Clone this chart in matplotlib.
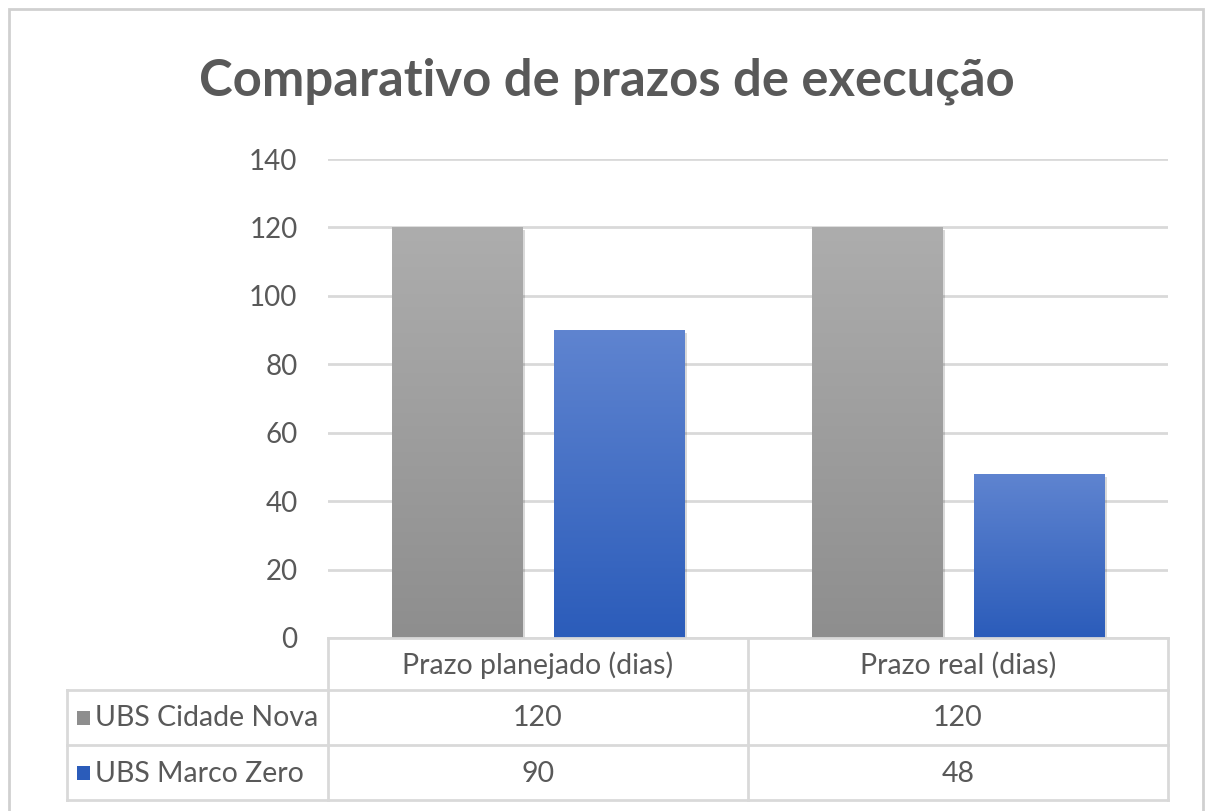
import matplotlib
matplotlib.use("Agg")
import matplotlib.pyplot as plt
import matplotlib.patheffects as pe
import numpy as np
from matplotlib.lines import Line2D
from matplotlib.patches import Rectangle
from matplotlib.colors import LinearSegmentedColormap

plt.rcParams['font.family'] = ['Lato', 'DejaVu Sans']

# data
title = "Comparativo de prazos de execução"
categories = ["Prazo planejado (dias)", "Prazo real (dias)"]
series_names = ["UBS Cidade Nova", "UBS Marco Zero"]
cidade_nova = [120, 120]
marco_zero = [90, 48]
yticks = [0, 20, 40, 60, 80, 100, 120, 140]

text_col = "#595959"
grid_col = "#d9d9d9"
gray_grad = ("#adadad", "#8e8e8e")
blue_grad = ("#5f84d0", "#2b5cba")
W, H = 1206, 811
fs_tab = 20.5

fig = plt.figure(figsize=(W / 100, H / 100), dpi=100)

# outer frame
fig.add_artist(Rectangle((9 / W, -0.1), (1203 - 9) / W, 1.1 - 9 / H, transform=fig.transFigure,
                         fill=False, edgecolor="#d0d0d0", linewidth=2))

# plot area
ax_l, ax_r, ax_t, ax_b = 328, 1168, 159, 638
ax = fig.add_axes([ax_l / W, 1 - ax_b / H, (ax_r - ax_l) / W, (ax_b - ax_t) / H])
ax.set_xlim(-0.5, 1.5)
ax.set_ylim(0, 140)
ax.set_yticks(yticks)
ax.set_xticks([])
ax.tick_params(axis='y', length=0, pad=22, labelsize=20, labelcolor=text_col)
for s in ax.spines.values():
    s.set_visible(False)
ax.grid(axis='y', color=grid_col, linewidth=2)
ax.set_axisbelow(True)

x = np.arange(len(categories))
bw = 0.31
off = 0.193


def gradient_bars(vals, xpos, cols):
    cmap = LinearSegmentedColormap.from_list("g", [cols[1], cols[0]])
    bars = ax.bar(xpos, vals, width=bw, color=cols[1], zorder=2,
                  path_effects=[pe.SimplePatchShadow(offset=(2, -2), shadow_rgbFace="#000000", alpha=0.15),
                                pe.Normal()])
    grad = np.linspace(0, 1, 256).reshape(-1, 1)
    for b in bars:
        x0, y0 = b.get_x(), b.get_y()
        im = ax.imshow(grad, cmap=cmap, origin='lower', aspect='auto',
                       extent=[x0, x0 + b.get_width(), y0, y0 + b.get_height()], zorder=3)
        im.set_clip_path(b)
    return bars


gradient_bars(cidade_nova, x - off, gray_grad)
gradient_bars(marco_zero, x + off, blue_grad)
ax.set_xlim(-0.5, 1.5)
ax.set_ylim(0, 140)

# data table drawn on an overlay in pixel coords
ov = fig.add_axes([0, 0, 1, 1], zorder=5)
ov.set_xlim(0, W)
ov.set_ylim(H, 0)
ov.axis('off')
ov.patch.set_alpha(0)

row_y = [638, 690, 745, 800]
col_x = [ax_l, (ax_l + ax_r) / 2, ax_r]
lbl_l = 67
lc = dict(color=grid_col, linewidth=2)
ov.add_line(Line2D([col_x[0], col_x[-1]], [row_y[0]] * 2, **lc))
for yy in row_y[1:]:
    ov.add_line(Line2D([lbl_l, col_x[-1]], [yy] * 2, **lc))
for xx in col_x:
    ov.add_line(Line2D([xx, xx], [row_y[0], row_y[-1]], **lc))
ov.add_line(Line2D([lbl_l, lbl_l], [row_y[1], row_y[-1]], **lc))

for i, cat in enumerate(categories):
    cx = (col_x[i] + col_x[i + 1]) / 2
    ov.text(cx, (row_y[0] + row_y[1]) / 2 + 1, cat, ha='center', va='center',
            fontsize=fs_tab, color=text_col)

rows = [cidade_nova, marco_zero]
swatch = [gray_grad[1], blue_grad[1]]
for r, (name, vals) in enumerate(zip(series_names, rows)):
    cy = (row_y[r + 1] + row_y[r + 2]) / 2
    ov.add_patch(Rectangle((77, cy - 7), 13, 14, facecolor=swatch[r], edgecolor='none'))
    ov.text(95, cy + 1, name, ha='left', va='center', fontsize=fs_tab, color=text_col)
    for i, v in enumerate(vals):
        cx = (col_x[i] + col_x[i + 1]) / 2
        ov.text(cx, cy + 1, str(v), ha='center', va='center', fontsize=fs_tab, color=text_col)

fig.text(607 / W, 1 - 81 / H, title, ha='center', va='center', fontsize=36.5,
         fontweight='bold', color=text_col)

fig.savefig("out.png", dpi=100)
